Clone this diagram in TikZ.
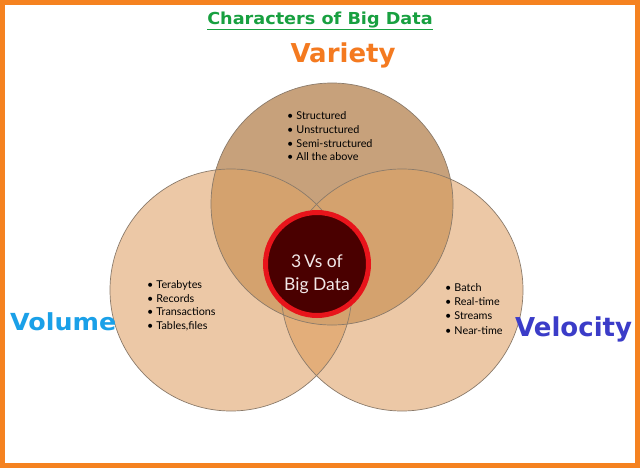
\documentclass[tikz,border=0pt]{standalone}
\usepackage{fontspec}
\setmainfont{Liberation Sans}
\newfontfamily\headfont{DejaVu Sans}
\newfontfamily\listfont{Lato}
\definecolor{frameorange}{HTML}{F58220}
\definecolor{titlegreen}{HTML}{18A040}
\definecolor{varorange}{HTML}{F47A20}
\definecolor{volblue}{HTML}{1AA0E8}
\definecolor{velblue}{HTML}{3B3CC8}
\definecolor{sidefill}{HTML}{ECC8A6}
\definecolor{topfill}{HTML}{C7A17B}
\definecolor{topside}{HTML}{D4A26E}
\definecolor{sideside}{HTML}{E3AE7A}
\definecolor{ringline}{HTML}{8B7B6B}
\definecolor{coredark}{HTML}{4A0000}
\definecolor{corered}{HTML}{E8141B}
\definecolor{coretext}{HTML}{F2E8E8}
\tikzset{
  item/.style={anchor=base west, inner sep=0pt, font=\listfont\fontsize{10.8}{12}\selectfont, text=black},
  bigword/.style={anchor=base west, inner sep=0pt, font=\headfont\bfseries\fontsize{#1}{#1}\selectfont},
  ring/.style={draw=ringline, line width=0.7pt}
}
\begin{document}
\begin{tikzpicture}[x=1pt,y=-1pt]
\useasboundingbox (0,0) rectangle (640,468);
\fill[white] (0,0) rectangle (640,468);
% circles
\coordinate (cT) at (332,204);
\coordinate (cL) at (231,290);
\coordinate (cR) at (402,290);
\fill[sidefill] (cL) circle[radius=121pt];
\fill[sidefill] (cR) circle[radius=121pt];
\begin{scope}
  \clip (cL) circle[radius=121pt];
  \fill[sideside] (cR) circle[radius=121pt];
\end{scope}
\fill[topfill] (cT) circle[radius=121pt];
\begin{scope}
  \clip (cT) circle[radius=121pt];
  \fill[topside] (cL) circle[radius=121pt];
  \fill[topside] (cR) circle[radius=121pt];
\end{scope}
\draw[ring] (cL) circle[radius=121pt];
\draw[ring] (cR) circle[radius=121pt];
\draw[ring] (cT) circle[radius=121pt];
% core
\node[circle, fill=coredark, draw=corered, line width=5pt, minimum size=103pt, inner sep=0pt] (core) at (317,264) {};
\node[inner sep=0pt, text=coretext, font=\listfont\fontsize{17.5}{23}\selectfont, align=center] (coretxt) at (317,274) {3\,Vs of\\Big Data};
% lists
\foreach \t [count=\i] in {Structured, Unstructured, Semi-structured, All the above}
  \node[item, name=var\i] at (287, {119.5+13.8*(\i-1)}) {\textbullet\hspace{3pt}\t};
\foreach \t [count=\i] in {Terabytes, Records, Transactions, {Tables,files}}
  \node[item, name=vol\i] at (147, {288.5+13.7*(\i-1)}) {\textbullet\hspace{3pt}\t};
\foreach \t [count=\i] in {Batch, Real-time, Streams, Near-time}
  \node[item, name=vel\i] at (445, {291.5+14.2*(\i-1)}) {\textbullet\hspace{3pt}\t};
% titles
\node[bigword=16.5, text=titlegreen, anchor=base, xscale=1.07] (title) at (320,25) {Characters of Big Data};
\draw[titlegreen, line width=1.6pt] (title.base west) ++(0,4.5) coordinate (ul1) -- (title.base east |- ul1);
\node[bigword=26, text=varorange, anchor=base] (variety) at (343,63) {Variety};
\node[bigword=23.5, text=volblue, xscale=1.08] (volume) at (10,330) {Volume};
\node[bigword=26, text=velblue] (velocity) at (515,336) {Velocity};
% frame
\draw[frameorange, line width=5pt] (2.5,2.5) rectangle (637.5,465.5);
\end{tikzpicture}
\end{document}
